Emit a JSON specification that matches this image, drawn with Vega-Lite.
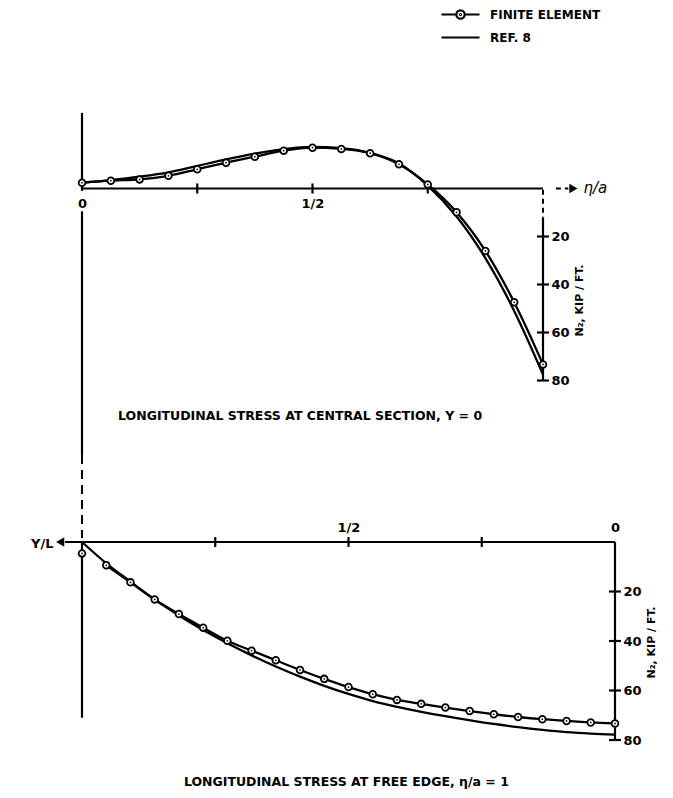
{
  "$schema": "https://vega.github.io/schema/vega-lite/v6.json",
  "width": 673,
  "height": 798,
  "autosize": {"type": "none"},
  "padding": 0,
  "background": "white",
  "config": {
    "view": {"stroke": null},
    "font": "DejaVu Sans",
    "axis": {"grid": false, "labelFont": "DejaVu Sans", "labelFontWeight": "bold", "labelColor": "black", "titleFont": "DejaVu Sans", "titleFontWeight": "bold", "titleColor": "black"},
    "text": {"font": "DejaVu Sans", "fontWeight": "bold", "color": "black"}
  },
  "datasets": {
    "topFE": [
      {"x": 0, "y": -2.4}, {"x": 0.0625, "y": -3.25}, {"x": 0.125, "y": -3.8}, {"x": 0.1875, "y": -5.3},
      {"x": 0.25, "y": -8.0}, {"x": 0.3125, "y": -10.75}, {"x": 0.375, "y": -13.25}, {"x": 0.4375, "y": -15.75},
      {"x": 0.5, "y": -17.0}, {"x": 0.5625, "y": -16.5}, {"x": 0.625, "y": -14.7}, {"x": 0.6875, "y": -10.1},
      {"x": 0.75, "y": -1.7}, {"x": 0.8125, "y": 9.9}, {"x": 0.875, "y": 26.0}, {"x": 0.9375, "y": 47.4},
      {"x": 1.0, "y": 73.3}
    ],
    "topRef": [
      {"x": 0, "y": -2.4}, {"x": 0.0625, "y": -3.5}, {"x": 0.125, "y": -4.9}, {"x": 0.1875, "y": -6.7},
      {"x": 0.25, "y": -9.4}, {"x": 0.3125, "y": -12.1}, {"x": 0.375, "y": -14.5}, {"x": 0.4375, "y": -16.4},
      {"x": 0.5, "y": -17.3}, {"x": 0.5625, "y": -16.8}, {"x": 0.625, "y": -14.8}, {"x": 0.6875, "y": -10.4},
      {"x": 0.75, "y": -1.2}, {"x": 0.8125, "y": 11.7}, {"x": 0.875, "y": 29.0}, {"x": 0.9375, "y": 51.0},
      {"x": 1.0, "y": 77.5}
    ],
    "topSolid": [
      {"x": 0, "x2": 1, "y": 0, "y2": 0},
      {"x": 0, "x2": 0, "y": -31.5, "y2": 1},
      {"x": 0, "x2": 0, "y": 9.5, "y2": 111},
      {"x": 1, "x2": 1, "y": 12, "y2": 80},
      {"x": 0.987, "x2": 1.013, "y": 20, "y2": 20},
      {"x": 0.987, "x2": 1.013, "y": 40, "y2": 40},
      {"x": 0.987, "x2": 1.013, "y": 60, "y2": 60},
      {"x": 0.987, "x2": 1.013, "y": 80, "y2": 80},
      {"x": 0.25, "x2": 0.25, "y": -2.1, "y2": 2.1},
      {"x": 0.5, "x2": 0.5, "y": -2.1, "y2": 2.1},
      {"x": 0.75, "x2": 0.75, "y": -2.1, "y2": 2.1}
    ],
    "topDashed": [
      {"x": 1, "x2": 1, "y": 0.5, "y2": 12},
      {"x": 1.028, "x2": 1.055, "y": 0, "y2": 0}
    ],
    "topArrow": [{"x": 1.066, "y": 0}],
    "topCaption": [{"x": 0.473, "y": 94.8, "text": "LONGITUDINAL STRESS AT CENTRAL SECTION, Y = 0"}],
    "botFE": [
      {"x": 1, "y": 4.6}, {"x": 0.9545, "y": 9.4}, {"x": 0.9091, "y": 16.3}, {"x": 0.8636, "y": 23.2},
      {"x": 0.8182, "y": 29.1}, {"x": 0.7727, "y": 34.6}, {"x": 0.7273, "y": 39.9}, {"x": 0.6818, "y": 43.9},
      {"x": 0.6364, "y": 47.8}, {"x": 0.5909, "y": 51.7}, {"x": 0.5455, "y": 55.3}, {"x": 0.5, "y": 58.6},
      {"x": 0.4545, "y": 61.5}, {"x": 0.4091, "y": 63.8}, {"x": 0.3636, "y": 65.4}, {"x": 0.3182, "y": 66.9},
      {"x": 0.2727, "y": 68.3}, {"x": 0.2273, "y": 69.6}, {"x": 0.1818, "y": 70.7}, {"x": 0.1364, "y": 71.6},
      {"x": 0.0909, "y": 72.3}, {"x": 0.0455, "y": 72.9}, {"x": 0, "y": 73.3}
    ],
    "botRef": [
      {"x": 1, "y": 0}, {"x": 0.9545, "y": 8.6}, {"x": 0.9091, "y": 16.0}, {"x": 0.8636, "y": 23.3},
      {"x": 0.8182, "y": 29.7}, {"x": 0.7727, "y": 35.6}, {"x": 0.7273, "y": 40.9}, {"x": 0.6818, "y": 45.8},
      {"x": 0.6364, "y": 50.3}, {"x": 0.5909, "y": 54.4}, {"x": 0.5455, "y": 58.1}, {"x": 0.5, "y": 61.4},
      {"x": 0.4545, "y": 64.3}, {"x": 0.4091, "y": 66.6}, {"x": 0.3636, "y": 68.6}, {"x": 0.3182, "y": 70.4},
      {"x": 0.2727, "y": 72.0}, {"x": 0.2273, "y": 73.5}, {"x": 0.1818, "y": 74.8}, {"x": 0.1364, "y": 75.9},
      {"x": 0.0909, "y": 76.8}, {"x": 0.0455, "y": 77.4}, {"x": 0, "y": 77.8}
    ],
    "botSolid": [
      {"x": 0, "x2": 1.032, "y": 0, "y2": 0},
      {"x": 1, "x2": 1, "y": 0, "y2": 71},
      {"x": 0, "x2": 0, "y": 0, "y2": 80},
      {"x": -0.0113, "x2": 0.0113, "y": 20, "y2": 20},
      {"x": -0.0113, "x2": 0.0113, "y": 40, "y2": 40},
      {"x": -0.0113, "x2": 0.0113, "y": 60, "y2": 60},
      {"x": -0.0113, "x2": 0.0113, "y": 80, "y2": 80},
      {"x": 0.25, "x2": 0.25, "y": -2, "y2": 2},
      {"x": 0.5, "x2": 0.5, "y": -2, "y2": 2},
      {"x": 0.75, "x2": 0.75, "y": -2, "y2": 2}
    ],
    "botDashed": [{"x": 1, "x2": 1, "y": -35.2, "y2": -1.6}],
    "botArrow": [{"x": 1.041, "y": 0}],
    "botCaption": [{"x": 0.504, "y": 97, "text": "LONGITUDINAL STRESS AT FREE EDGE, η/a = 1"}]
  },
  "layer": [
    {
      "data": {"name": "topSolid"},
      "mark": {"type": "rule", "color": "black", "strokeWidth": 2.2},
      "encoding": {
        "x": {"field": "x", "type": "quantitative", "scale": {"domain": [-0.177874, 1.281996], "nice": false, "zero": false},
          "axis": {"orient": "bottom", "offset": -609.5, "values": [0, 0.5], "labelExpr": "datum.value == 0 ? '0' : '1/2'", "domain": false, "ticks": false, "labelPadding": 9, "labelFontSize": 13, "labelFlush": false, "labelOverlap": false,
            "title": "η/a", "titleX": 583, "titleY": -1, "titleAlign": "left", "titleBaseline": "middle", "titleAngle": 0, "titleFontSize": 15, "titleFontStyle": "italic", "titleFontWeight": "normal"}},
        "x2": {"field": "x2"},
        "y": {"field": "y", "type": "quantitative", "scale": {"domain": [-78.5417, 253.9583], "reverse": true, "nice": false, "zero": false},
          "axis": {"orient": "right", "offset": -130, "values": [20, 40, 60, 80], "domain": false, "ticks": false, "labelPadding": 8, "labelFontSize": 13, "labelFlush": false, "labelOverlap": false,
            "title": "N₂, KIP / FT.", "titleAngle": 270, "titleX": 36, "titleY": 300, "titleAlign": "center", "titleBaseline": "middle", "titleFontSize": 11}},
        "y2": {"field": "y2"}
      }
    },
    {
      "data": {"name": "topDashed"},
      "mark": {"type": "rule", "color": "black", "strokeWidth": 2, "strokeDash": [5, 4]},
      "encoding": {
        "x": {"field": "x", "type": "quantitative", "scale": {"domain": [-0.177874, 1.281996], "nice": false, "zero": false}, "axis": null},
        "x2": {"field": "x2"},
        "y": {"field": "y", "type": "quantitative", "scale": {"domain": [-78.5417, 253.9583], "reverse": true, "nice": false, "zero": false}, "axis": null},
        "y2": {"field": "y2"}
      }
    },
    {
      "data": {"name": "topArrow"},
      "mark": {"type": "point", "shape": "triangle-right", "filled": true, "color": "black", "size": 90, "opacity": 1},
      "encoding": {
        "x": {"field": "x", "type": "quantitative", "scale": {"domain": [-0.177874, 1.281996], "nice": false, "zero": false}, "axis": null},
        "y": {"field": "y", "type": "quantitative", "scale": {"domain": [-78.5417, 253.9583], "reverse": true, "nice": false, "zero": false}, "axis": null}
      }
    },
    {
      "data": {"name": "topRef"},
      "mark": {"type": "line", "color": "black", "strokeWidth": 2.3, "interpolate": "monotone"},
      "encoding": {
        "x": {"field": "x", "type": "quantitative", "scale": {"domain": [-0.177874, 1.281996], "nice": false, "zero": false}, "axis": null},
        "y": {"field": "y", "type": "quantitative", "scale": {"domain": [-78.5417, 253.9583], "reverse": true, "nice": false, "zero": false}, "axis": null}
      }
    },
    {
      "data": {"name": "topFE"},
      "mark": {"type": "line", "color": "black", "strokeWidth": 2.3, "interpolate": "monotone"},
      "encoding": {
        "x": {"field": "x", "type": "quantitative", "scale": {"domain": [-0.177874, 1.281996], "nice": false, "zero": false}, "axis": null},
        "y": {"field": "y", "type": "quantitative", "scale": {"domain": [-78.5417, 253.9583], "reverse": true, "nice": false, "zero": false}, "axis": null}
      }
    },
    {
      "data": {"name": "topFE"},
      "mark": {"type": "point", "shape": "circle", "filled": true, "fill": "white", "stroke": "black", "strokeWidth": 1.8, "size": 45, "opacity": 1},
      "encoding": {
        "x": {"field": "x", "type": "quantitative", "scale": {"domain": [-0.177874, 1.281996], "nice": false, "zero": false}, "axis": null},
        "y": {"field": "y", "type": "quantitative", "scale": {"domain": [-78.5417, 253.9583], "reverse": true, "nice": false, "zero": false}, "axis": null}
      }
    },
    {
      "data": {"name": "topFE"},
      "mark": {"type": "point", "shape": "circle", "filled": true, "color": "black", "size": 3, "opacity": 1},
      "encoding": {
        "x": {"field": "x", "type": "quantitative", "scale": {"domain": [-0.177874, 1.281996], "nice": false, "zero": false}, "axis": null},
        "y": {"field": "y", "type": "quantitative", "scale": {"domain": [-78.5417, 253.9583], "reverse": true, "nice": false, "zero": false}, "axis": null}
      }
    },
    {
      "data": {"name": "topCaption"},
      "mark": {"type": "text", "fontSize": 12.5, "align": "center", "baseline": "middle"},
      "encoding": {
        "x": {"field": "x", "type": "quantitative", "scale": {"domain": [-0.177874, 1.281996], "nice": false, "zero": false}, "axis": null},
        "y": {"field": "y", "type": "quantitative", "scale": {"domain": [-78.5417, 253.9583], "reverse": true, "nice": false, "zero": false}, "axis": null},
        "text": {"field": "text"}
      }
    },
    {
      "data": {"name": "botSolid"},
      "mark": {"type": "rule", "color": "black", "strokeWidth": 2.2},
      "encoding": {
        "x": {"field": "x", "type": "quantitative", "scale": {"domain": [-0.108818, 1.153846], "reverse": true, "nice": false, "zero": false},
          "axis": {"orient": "top", "offset": -542, "values": [0.5, 0], "labelExpr": "datum.value == 0 ? '0' : '1/2'", "domain": false, "ticks": false, "labelPadding": 8, "labelFontSize": 13, "labelFlush": false, "labelOverlap": false,
            "title": "Y/L", "titleX": 53, "titleY": 1, "titleAlign": "right", "titleBaseline": "middle", "titleAngle": 0, "titleFontSize": 13}},
        "x2": {"field": "x2"},
        "y": {"field": "y", "type": "quantitative", "scale": {"domain": [-218.99, 103.434], "reverse": true, "nice": false, "zero": false},
          "axis": {"orient": "right", "offset": -58, "values": [20, 40, 60, 80], "domain": false, "ticks": false, "labelPadding": 8, "labelFontSize": 13, "labelFlush": false, "labelOverlap": false,
            "title": "N₂, KIP / FT.", "titleAngle": 270, "titleX": 36, "titleY": 642, "titleAlign": "center", "titleBaseline": "middle", "titleFontSize": 11}},
        "y2": {"field": "y2"}
      }
    },
    {
      "data": {"name": "botDashed"},
      "mark": {"type": "rule", "color": "black", "strokeWidth": 2, "strokeDash": [9, 6]},
      "encoding": {
        "x": {"field": "x", "type": "quantitative", "scale": {"domain": [-0.108818, 1.153846], "reverse": true, "nice": false, "zero": false}, "axis": null},
        "x2": {"field": "x2"},
        "y": {"field": "y", "type": "quantitative", "scale": {"domain": [-218.99, 103.434], "reverse": true, "nice": false, "zero": false}, "axis": null},
        "y2": {"field": "y2"}
      }
    },
    {
      "data": {"name": "botArrow"},
      "mark": {"type": "point", "shape": "triangle-left", "filled": true, "color": "black", "size": 90, "opacity": 1},
      "encoding": {
        "x": {"field": "x", "type": "quantitative", "scale": {"domain": [-0.108818, 1.153846], "reverse": true, "nice": false, "zero": false}, "axis": null},
        "y": {"field": "y", "type": "quantitative", "scale": {"domain": [-218.99, 103.434], "reverse": true, "nice": false, "zero": false}, "axis": null}
      }
    },
    {
      "data": {"name": "botRef"},
      "mark": {"type": "line", "color": "black", "strokeWidth": 2.3, "interpolate": "monotone"},
      "encoding": {
        "x": {"field": "x", "type": "quantitative", "scale": {"domain": [-0.108818, 1.153846], "reverse": true, "nice": false, "zero": false}, "axis": null},
        "y": {"field": "y", "type": "quantitative", "scale": {"domain": [-218.99, 103.434], "reverse": true, "nice": false, "zero": false}, "axis": null}
      }
    },
    {
      "data": {"name": "botFE"},
      "transform": [{"filter": "datum.x < 0.99"}],
      "mark": {"type": "line", "color": "black", "strokeWidth": 2.3, "interpolate": "monotone"},
      "encoding": {
        "x": {"field": "x", "type": "quantitative", "scale": {"domain": [-0.108818, 1.153846], "reverse": true, "nice": false, "zero": false}, "axis": null},
        "y": {"field": "y", "type": "quantitative", "scale": {"domain": [-218.99, 103.434], "reverse": true, "nice": false, "zero": false}, "axis": null}
      }
    },
    {
      "data": {"name": "botFE"},
      "mark": {"type": "point", "shape": "circle", "filled": true, "fill": "white", "stroke": "black", "strokeWidth": 1.8, "size": 45, "opacity": 1},
      "encoding": {
        "x": {"field": "x", "type": "quantitative", "scale": {"domain": [-0.108818, 1.153846], "reverse": true, "nice": false, "zero": false}, "axis": null},
        "y": {"field": "y", "type": "quantitative", "scale": {"domain": [-218.99, 103.434], "reverse": true, "nice": false, "zero": false}, "axis": null}
      }
    },
    {
      "data": {"name": "botFE"},
      "mark": {"type": "point", "shape": "circle", "filled": true, "color": "black", "size": 3, "opacity": 1},
      "encoding": {
        "x": {"field": "x", "type": "quantitative", "scale": {"domain": [-0.108818, 1.153846], "reverse": true, "nice": false, "zero": false}, "axis": null},
        "y": {"field": "y", "type": "quantitative", "scale": {"domain": [-218.99, 103.434], "reverse": true, "nice": false, "zero": false}, "axis": null}
      }
    },
    {
      "data": {"name": "botCaption"},
      "mark": {"type": "text", "fontSize": 12.5, "align": "center", "baseline": "middle"},
      "encoding": {
        "x": {"field": "x", "type": "quantitative", "scale": {"domain": [-0.108818, 1.153846], "reverse": true, "nice": false, "zero": false}, "axis": null},
        "y": {"field": "y", "type": "quantitative", "scale": {"domain": [-218.99, 103.434], "reverse": true, "nice": false, "zero": false}, "axis": null},
        "text": {"field": "text"}
      }
    },
    {
      "data": {"values": [{"series": "FINITE ELEMENT"}, {"series": "REF. 8"}]},
      "transform": [{"filter": "datum.series == 'none'"}],
      "mark": {"type": "point", "filled": false, "color": "black", "strokeWidth": 2.2, "opacity": 1},
      "encoding": {
        "shape": {
          "field": "series", "type": "nominal",
          "scale": {"domain": ["FINITE ELEMENT", "REF. 8"], "range": ["M-1.9,0H-0.42M0.42,0H1.9M0.42,0A0.42,0.42,0,1,1,-0.42,0A0.42,0.42,0,1,1,0.42,0M0.05,0A0.05,0.05,0,1,1,-0.05,0A0.05,0.05,0,1,1,0.05,0", "M-1.9,0H1.9"]},
          "legend": {"orient": "none", "legendX": 449, "legendY": 3, "title": null, "padding": 0, "symbolSize": 400, "symbolStrokeWidth": 2.2, "symbolStrokeColor": "black", "symbolOpacity": 1, "labelFont": "DejaVu Sans", "labelFontWeight": "bold", "labelFontSize": 12, "labelColor": "black", "labelOffset": 18, "rowPadding": 2}
        }
      }
    }
  ],
  "resolve": {"scale": {"x": "independent", "y": "independent"}}
}
